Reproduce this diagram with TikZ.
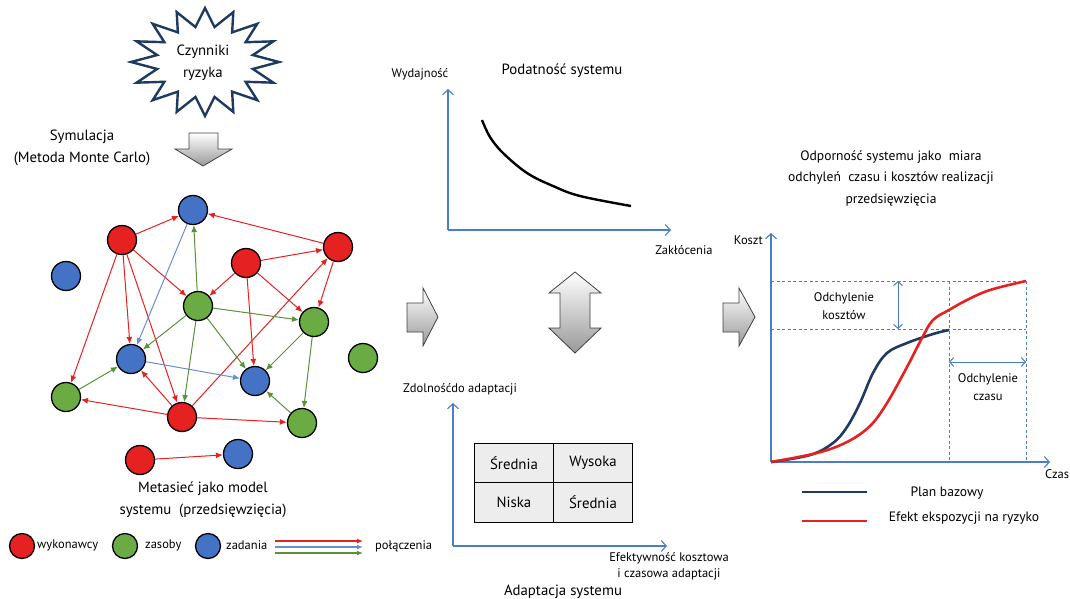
\documentclass[tikz,border=0pt]{standalone}
\usepackage{fontspec}
\setmainfont{PT Sans}
\usetikzlibrary{arrows.meta}

\definecolor{wred}{HTML}{E52121}
\definecolor{zgreen}{HTML}{6AAB44}
\definecolor{zblue}{HTML}{4472C4}
\definecolor{axblue}{HTML}{4A7EC7}
\definecolor{navy}{HTML}{1F3A60}

\begin{document}
\begin{tikzpicture}[x=1pt, y=-1pt, >=Stealth,
    wyk/.style={circle, draw=black, line width=1.3pt, fill=wred, minimum size=29pt, inner sep=0pt},
    zas/.style={wyk, fill=zgreen},
    zad/.style={wyk, fill=zblue},
    rlink/.style={draw=wred, line width=1pt, -{Latex[length=7pt,width=6pt]}},
    glink/.style={rlink, draw=zgreen!85!black, -{Latex[length=7pt,width=6pt]}},
    blink/.style={rlink, draw=zblue!80!white, -{Latex[length=7pt,width=6pt]}},
    axis/.style={draw=axblue, line width=1.1pt, -{Straight Barb[length=5pt,width=11pt]}},
    guide/.style={draw=axblue, line width=0.8pt, dash pattern=on 3pt off 2.5pt},
    span/.style={draw=axblue, line width=1pt, {Straight Barb[length=4pt,width=9pt]}-{Straight Barb[length=4pt,width=9pt]}},
    fat/.style={draw=black!75, line width=0.8pt, top color=white, bottom color=black!40},
    big/.style={font=\fontsize{14.8}{22}\selectfont, align=center},
    small/.style={font=\fontsize{12.5}{17.5}\selectfont, align=center}]
    \useasboundingbox (0,0) rectangle (1070,598);

    % risk factors
    \begin{scope}[shift={(205,62)}]
        \draw[navy, line width=2.4pt, line join=miter, fill=white] (90:74 and 54)
            \foreach \i [evaluate=\i as \r using {ifthenelse(isodd(\i),0.66,1)}] in {1,...,31} {
                -- ({90+\i*11.25}:{74*\r} and {54*\r}) } -- cycle;
    \end{scope}
    \node[big] (risk) at (203,63) {Czynniki\\ryzyka};

    \node[big] (sim) at (82,148) {Symulacja\\(Metoda Monte Carlo)};
    \shade[fat] (189,133) -- (218,133) -- (218,149) -- (232,149) -- (203,166)
        -- (175,149) -- (189,149) -- cycle;

    % metanetwork
    \node[zad] (B1) at (193,210) {};
    \node[wyk] (R1) at (122,240) {};
    \node[zad] (B0) at (66,276) {};
    \node[wyk] (R2) at (246,263) {};
    \node[wyk] (R3) at (338,247) {};
    \node[zas] (G1) at (198,306) {};
    \node[zas] (G2) at (314,322) {};
    \node[zas] (G0) at (363,358) {};
    \node[zad] (B2) at (131,359) {};
    \node[zad] (B3) at (255,381) {};
    \node[zas] (G3) at (66,397) {};
    \node[wyk] (R4) at (182,417) {};
    \node[zas] (G4) at (302,423) {};
    \node[wyk] (R5) at (140,460) {};
    \node[zad] (B4) at (238,454) {};

    \draw[rlink] (R1) -- (B1);
    \draw[rlink] (R3) -- (B1);
    \draw[rlink] (R2) -- (R3);
    \draw[rlink] (R1) -- (G1);
    \draw[rlink] (R1) -- (B2);
    \draw[rlink] (R1) -- (G3);
    \draw[rlink] (R1) -- (R4);
    \draw[rlink] (R2) -- (G1);
    \draw[rlink] (R2) -- (B3);
    \draw[rlink] (R2) -- (G2);
    \draw[rlink] (R3) -- (G2);
    \draw[rlink] (R4) -- (B2);
    \draw[rlink] (R4) -- (R3);
    \draw[rlink] (R4) -- (G3);
    \draw[rlink] (R4) -- (G4);
    \draw[rlink] (R5) -- (B4);
    \draw[blink] (B1) -- (B2);
    \draw[blink] (B2) -- (B3);
    \draw[glink] (G1) -- (B1);
    \draw[glink] (G1) -- (G2);
    \draw[glink] (G1) -- (B2);
    \draw[glink] (G1) -- (B3);
    \draw[glink] (G1) -- (R4);
    \draw[glink] (G2) -- (B3);
    \draw[glink] (G2) -- (G4);
    \draw[glink] (G3) -- (B2);
    \draw[glink] (G4) -- (B3);

    \node[big] (meta) at (203,500) {Metasieć jako model\\systemu\ \ (przedsięwzięcia)};

    % legend
    \node[wyk, minimum size=25pt] (lr) at (22,546) {};
    \node[small, anchor=west, inner sep=0pt] (lrt) at (37,545) {wykonawcy};
    \node[zas, minimum size=25pt] (lg) at (125,546) {};
    \node[small, anchor=west, inner sep=0pt] (lgt) at (145,545) {zasoby};
    \node[zad, minimum size=25pt] (lb) at (208,546) {};
    \node[small, anchor=west, inner sep=0pt] (lbt) at (226,545) {zadania};
    \coordinate (l1a) at (275,541); \coordinate (l1b) at (363,541);
    \coordinate (l2a) at (275,547); \coordinate (l2b) at (363,547);
    \coordinate (l3a) at (275,553); \coordinate (l3b) at (363,553);
    \draw[rlink, line width=1.2pt, -{Latex[length=6pt,width=5pt]}] (l1a) -- (l1b);
    \draw[blink, line width=1.2pt, -{Latex[length=6pt,width=5pt]}] (l2a) -- (l2b);
    \draw[glink, line width=1.2pt, -{Latex[length=6pt,width=5pt]}] (l3a) -- (l3b);
    \node[small, anchor=west, inner sep=0pt] (lct) at (375,546) {połączenia};

    % susceptibility
    \coordinate (O1) at (448,230);
    \coordinate (Y1) at (448,89);
    \coordinate (X1) at (671,230);
    \draw[axis] (O1) -- (Y1);
    \draw[axis] (O1) -- (X1);
    \node[small] (wyd) at (420,74) {Wydajność};
    \node[big] (pod) at (562,71) {Podatność systemu};
    \node[small] (zak) at (684,250) {Zakłócenia};
    \draw[line width=2.4pt] plot[smooth, tension=0.6] coordinates
        {(482,120) (490,137) (503,153) (527,173) (553,186) (580,196) (631,206)};

    % gray arrows
    \shade[fat] (407,303) -- (423,303) -- (423,288) -- (438,317) -- (423,346)
        -- (423,332) -- (407,332) -- cycle;
    \shade[fat] (723,303) -- (739,303) -- (739,288) -- (755,317) -- (739,346)
        -- (739,332) -- (723,332) -- cycle;
    \shade[fat] (575,272) -- (601,293) -- (590,293) -- (590,328) -- (601,328)
        -- (575,353) -- (549,328) -- (560,328) -- (560,293) -- (549,293) -- cycle;

    % adaptation
    \coordinate (O2) at (453,546);
    \coordinate (Y2) at (453,403);
    \coordinate (X2) at (667,546);
    \draw[axis] (O2) -- (Y2);
    \draw[axis] (O2) -- (X2);
    \node[small] (zdol) at (460,389) {Zdolnośćdo adaptacji};
    \filldraw[fill=black!7, draw=black, line width=0.9pt] (474,443) rectangle (632,522);
    \draw[line width=0.9pt] (553,443) -- (553,522) (474,482) -- (632,482);
    \node[big] (c11) at (514,463) {Średnia};
    \node[big] (c12) at (593,463) {Wysoka};
    \node[big] (c21) at (514,502) {Niska};
    \node[big] (c22) at (593,502) {Średnia};
    \node[small, font=\fontsize{12.5}{16}\selectfont] (eff) at (669,566) {Efektywność kosztowa\\i czasowa adaptacji};
    \node[big] (adap) at (563,592) {Adaptacja systemu};

    % resilience
    \node[big, font=\fontsize{13.6}{21.5}\selectfont] (odp) at (891,178) {Odporność systemu jako\ \ miara\\odchyleń\ \ czasu i kosztów realizacji\\przedsięwzięcia};
    \coordinate (O3) at (771,462);
    \coordinate (Y3) at (771,233);
    \coordinate (X3) at (1050,462);
    \draw[axis] (O3) -- (Y3);
    \draw[axis] (O3) -- (X3);
    \node[small, anchor=east, inner sep=1pt] (koszt) at (764,240) {Koszt};
    \node[small, anchor=west, inner sep=0pt] (czas) at (1045,474) {Czas};

    \coordinate (H1) at (771,281); \coordinate (H1e) at (1026,281);
    \coordinate (H2) at (771,329); \coordinate (H2e) at (1026,329);
    \coordinate (V1) at (949,281); \coordinate (V1e) at (949,462);
    \coordinate (V2) at (1026,281); \coordinate (V2e) at (1026,462);
    \draw[guide] (H1) -- (H1e);
    \draw[guide] (H2) -- (H2e);
    \draw[guide] (V1) -- (V1e);
    \draw[guide] (V2) -- (V2e);

    \coordinate (dk1) at (898,281); \coordinate (dk2) at (898,329);
    \draw[span] (dk1) -- (dk2);
    \node[small] (odk) at (844,306) {Odchylenie\\kosztów};
    \coordinate (dt1) at (949,362); \coordinate (dt2) at (1026,362);
    \draw[span] (dt1) -- (dt2);
    \node[small] (odc) at (988,387) {Odchylenie\\czasu};

    \draw[navy, line width=2.6pt] plot[smooth, tension=0.6] coordinates
        {(771,462) (810,455) (833,443) (847,427) (860,403) (873,373) (887,353) (907,343) (933,334) (949,330)};
    \draw[wred, line width=2.6pt] plot[smooth, tension=0.6] coordinates
        {(771,462) (817,453) (847,442) (870,426) (887,403) (907,367) (922,338) (933,320) (949,310) (967,300) (990,290) (1026,281)};

    \coordinate (pb1) at (802,492); \coordinate (pb2) at (867,492);
    \coordinate (ef1) at (802,521); \coordinate (ef2) at (867,521);
    \draw[navy, line width=2.6pt] (pb1) -- (pb2);
    \draw[wred, line width=2.6pt] (ef1) -- (ef2);
    \node[small, font=\fontsize{13.6}{18}\selectfont] (pbt) at (947,493) {Plan bazowy};
    \node[small, font=\fontsize{13.6}{18}\selectfont] (eft) at (964,518) {Efekt ekspozycji na ryzyko};
\end{tikzpicture}
\end{document}
